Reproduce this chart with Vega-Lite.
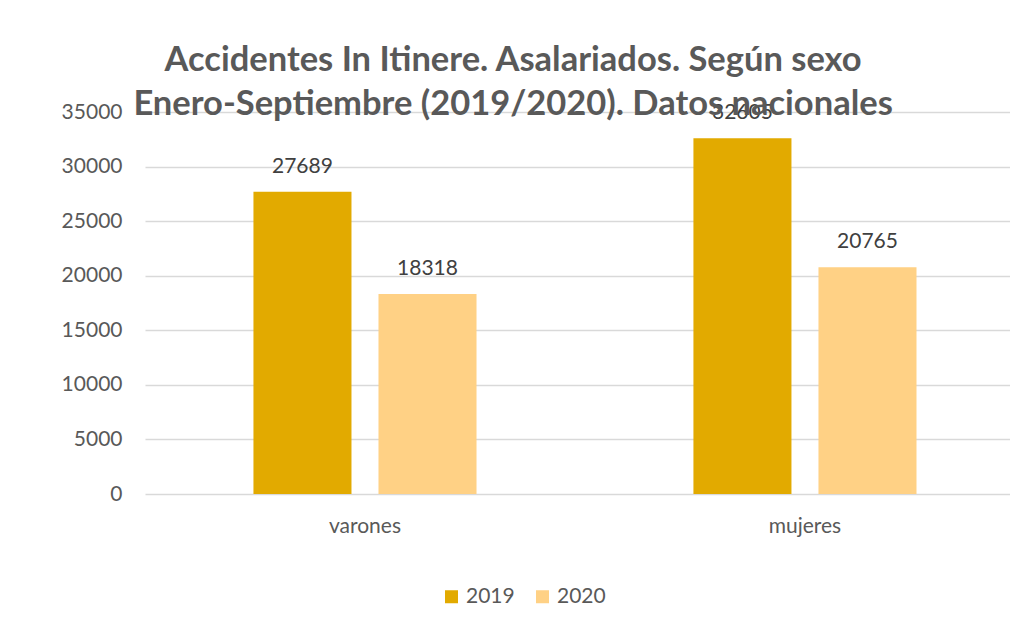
{
  "$schema": "https://vega.github.io/schema/vega-lite/v6.json",
  "autosize": {"type": "none"},
  "padding": {"left": 145, "top": 112, "right": 0, "bottom": 134},
  "width": 865,
  "height": 382,
  "background": "white",
  "title": {
    "text": ["Accidentes In Itinere. Asalariados. Según sexo", "Enero-Septiembre (2019/2020). Datos nacionales"],
    "font": "Lato",
    "fontSize": 34.5,
    "fontWeight": "bold",
    "color": "#595959",
    "anchor": "start",
    "align": "center",
    "dx": 452,
    "dy": 25,
    "lineHeight": 44
  },
  "data": {
    "values": [
      {"sexo": "varones", "anio": "2019", "valor": 27689},
      {"sexo": "varones", "anio": "2020", "valor": 18318},
      {"sexo": "mujeres", "anio": "2019", "valor": 32605},
      {"sexo": "mujeres", "anio": "2020", "valor": 20765}
    ]
  },
  "encoding": {
    "x": {
      "field": "sexo",
      "type": "nominal",
      "sort": ["varones", "mujeres"],
      "scale": {"paddingInner": 0.493, "paddingOuter": 0.2295, "align": 0.537},
      "axis": {
        "title": null,
        "labelAngle": 0,
        "labelFont": "Lato",
        "labelFontSize": 21,
        "labelColor": "#595959",
        "labelPadding": 21,
        "ticks": false,
        "domain": false,
        "grid": false
      }
    },
    "xOffset": {
      "field": "anio",
      "type": "nominal",
      "scale": {"paddingInner": 0.216, "paddingOuter": 0}
    },
    "y": {
      "field": "valor",
      "type": "quantitative",
      "scale": {"domain": [0, 35000], "nice": false},
      "axis": {
        "title": null,
        "values": [0, 5000, 10000, 15000, 20000, 25000, 30000, 35000],
        "format": "d",
        "labelFont": "Lato",
        "labelFontSize": 21,
        "labelColor": "#595959",
        "labelPadding": 23,
        "ticks": false,
        "domain": false,
        "gridColor": "#d9d9d9",
        "gridWidth": 1.5
      }
    }
  },
  "layer": [
    {
      "mark": {"type": "bar"},
      "encoding": {
        "color": {
          "field": "anio",
          "type": "nominal",
          "scale": {"domain": ["2019", "2020"], "range": ["#E2AA00", "#FFD185"]},
          "legend": {
            "title": null,
            "orient": "none",
            "direction": "horizontal",
            "legendX": 296,
            "legendY": 474,
            "padding": 0,
            "symbolType": "square",
            "symbolSize": 169,
            "symbolStrokeWidth": 0,
            "labelFont": "Lato",
            "labelFontSize": 21,
            "labelColor": "#595959",
            "columnPadding": 17,
            "labelOffset": 4
          }
        }
      }
    },
    {
      "mark": {"type": "text", "baseline": "alphabetic", "dy": -19, "font": "Lato", "fontSize": 21, "color": "#404040"},
      "encoding": {
        "text": {"field": "valor", "type": "quantitative", "format": "d"}
      }
    }
  ],
  "config": {"view": {"stroke": null}}
}
